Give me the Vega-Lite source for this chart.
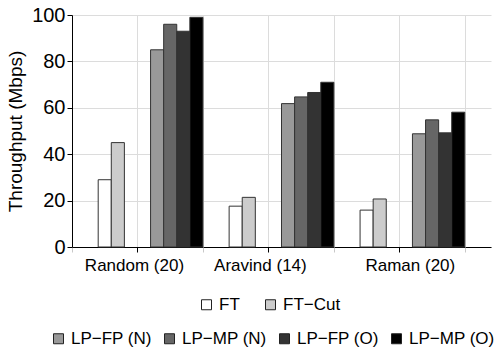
{
  "$schema": "https://vega.github.io/schema/vega-lite/v6.json",
  "width": 419,
  "height": 232,
  "autosize": {"type": "none"},
  "padding": {"left": 72, "top": 15, "right": 10, "bottom": 105},
  "config": {
    "view": {"stroke": null},
    "font": "Liberation Sans",
    "axis": {"labelColor": "#000", "titleColor": "#000", "domainColor": "#000", "tickColor": "#000", "gridColor": "#dcdcdc", "gridWidth": 1},
    "legend": {"labelColor": "#000"}
  },
  "data": {
    "values": [
      {"topology": "Random (20)", "scheme": "FT", "throughput": 29},
      {"topology": "Random (20)", "scheme": "FT−Cut", "throughput": 45},
      {"topology": "Random (20)", "scheme": "LP−FP (N)", "throughput": 85},
      {"topology": "Random (20)", "scheme": "LP−MP (N)", "throughput": 96},
      {"topology": "Random (20)", "scheme": "LP−FP (O)", "throughput": 93},
      {"topology": "Random (20)", "scheme": "LP−MP (O)", "throughput": 99},
      {"topology": "Aravind (14)", "scheme": "FT", "throughput": 17.6},
      {"topology": "Aravind (14)", "scheme": "FT−Cut", "throughput": 21.4},
      {"topology": "Aravind (14)", "scheme": "LP−FP (N)", "throughput": 61.8},
      {"topology": "Aravind (14)", "scheme": "LP−MP (N)", "throughput": 64.7},
      {"topology": "Aravind (14)", "scheme": "LP−FP (O)", "throughput": 66.6},
      {"topology": "Aravind (14)", "scheme": "LP−MP (O)", "throughput": 71},
      {"topology": "Raman (20)", "scheme": "FT", "throughput": 15.9},
      {"topology": "Raman (20)", "scheme": "FT−Cut", "throughput": 20.7},
      {"topology": "Raman (20)", "scheme": "LP−FP (N)", "throughput": 48.8},
      {"topology": "Raman (20)", "scheme": "LP−MP (N)", "throughput": 54.8},
      {"topology": "Raman (20)", "scheme": "LP−FP (O)", "throughput": 49.2},
      {"topology": "Raman (20)", "scheme": "LP−MP (O)", "throughput": 58.1}
    ]
  },
  "encoding": {
    "y": {
      "field": "throughput",
      "type": "quantitative",
      "scale": {"domain": [0, 100], "nice": false},
      "axis": {
        "title": "Throughput (Mbps)",
        "values": [0, 20, 40, 60, 80, 100],
        "labelFontSize": 20,
        "titleFontSize": 19,
        "titleFontWeight": "normal",
        "labelPadding": 2,
        "tickSize": 5,
        "titlePadding": 6,
        "grid": true
      }
    }
  },
  "layer": [
    {
      "transform": [{"filter": {"field": "scheme", "oneOf": ["FT", "FT−Cut"]}}],
      "mark": {"type": "bar", "stroke": "#333", "strokeWidth": 1},
      "encoding": {
        "x": {
          "field": "topology",
          "type": "nominal",
          "sort": ["Random (20)", "Aravind (14)", "Raman (20)"],
          "scale": {"domain": ["Random (20)", "Aravind (14)", "Raman (20)"], "paddingInner": 0, "paddingOuter": 0.1, "align": 0},
          "axis": {
            "title": null,
            "orient": "bottom",
            "labelAngle": 0,
            "labelFontSize": 17,
            "labelPadding": 5,
            "tickSize": 5,
            "grid": true,
            "labelOffset": {
              "condition": [
                {"test": "datum.value == 'Aravind (14)'", "value": -8},
                {"test": "datum.value == 'Raman (20)'", "value": 11}
              ],
              "value": -3
            }
          }
        },
        "xOffset": {
          "field": "scheme",
          "type": "nominal",
          "scale": {"domain": ["e1", "e2", "FT", "FT−Cut", "e3", "e4", "LP−FP (N)", "LP−MP (N)", "LP−FP (O)", "LP−MP (O)"], "paddingInner": 0, "paddingOuter": 0}
        },
        "color": {
          "field": "scheme",
          "type": "nominal",
          "scale": {"domain": ["FT", "FT−Cut"], "range": ["#ffffff", "#cccccc"]},
          "legend": {
            "orient": "none",
            "legendX": 126,
            "legendY": 281,
            "direction": "horizontal",
            "columns": 2,
            "title": null,
            "padding": 0,
            "columnPadding": 22,
            "labelOffset": 4,
            "labelFontSize": 17,
            "symbolType": "square",
            "symbolSize": 100,
            "symbolStrokeColor": "#222",
            "symbolStrokeWidth": 1
          }
        }
      }
    },
    {
      "transform": [{"filter": {"not": {"field": "scheme", "oneOf": ["FT", "FT−Cut"]}}}],
      "mark": {"type": "bar", "stroke": "#333", "strokeWidth": 1},
      "encoding": {
        "x": {
          "field": "topology",
          "type": "nominal",
          "sort": ["Random (20)", "Aravind (14)", "Raman (20)"],
          "scale": {"domain": ["Random (20)", "Aravind (14)", "Raman (20)"], "paddingInner": 0, "paddingOuter": 0.1, "align": 0},
          "axis": {
            "title": null,
            "orient": "bottom",
            "labels": false,
            "domain": false,
            "tickBand": "extent",
            "tickColor": "#c8c8c8",
            "tickSize": 5,
            "grid": true
          }
        },
        "xOffset": {
          "field": "scheme",
          "type": "nominal",
          "scale": {"domain": ["e1", "e2", "FT", "FT−Cut", "e3", "e4", "LP−FP (N)", "LP−MP (N)", "LP−FP (O)", "LP−MP (O)"], "paddingInner": 0, "paddingOuter": 0}
        },
        "color": {
          "field": "scheme",
          "type": "nominal",
          "scale": {"domain": ["LP−FP (N)", "LP−MP (N)", "LP−FP (O)", "LP−MP (O)"], "range": ["#999999", "#666666", "#333333", "#000000"]},
          "legend": {
            "orient": "none",
            "legendX": -22,
            "legendY": 315,
            "direction": "horizontal",
            "columns": 4,
            "title": null,
            "padding": 0,
            "columnPadding": 9,
            "labelOffset": 4,
            "labelFontSize": 17,
            "symbolType": "square",
            "symbolSize": 100,
            "symbolStrokeColor": "#222",
            "symbolStrokeWidth": 1
          }
        }
      }
    }
  ],
  "resolve": {"scale": {"color": "independent"}, "axis": {"x": "independent"}}
}
